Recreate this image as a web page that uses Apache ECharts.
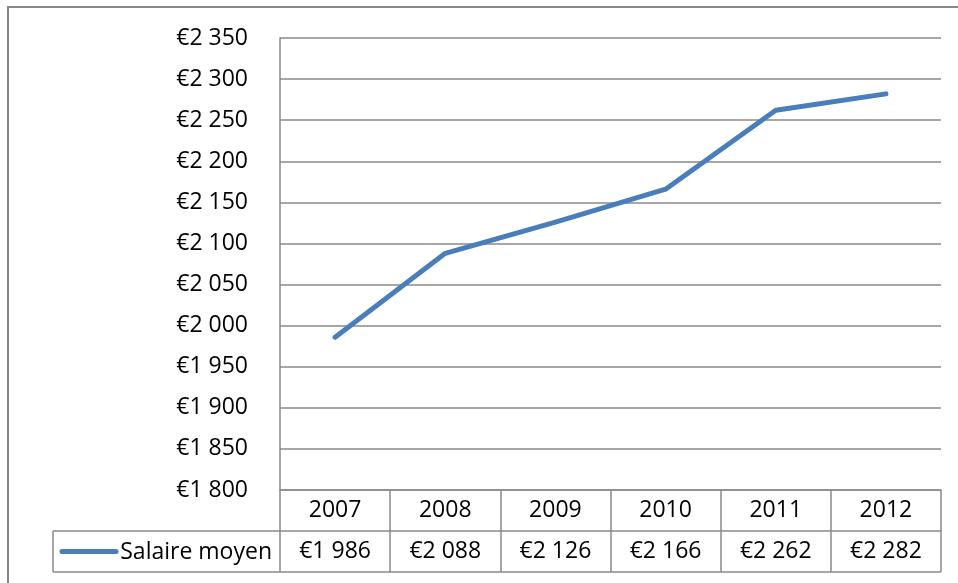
<!DOCTYPE html>
<html>
<head>
<meta charset="utf-8">
<script src="https://cdn.jsdelivr.net/npm/echarts@6/dist/echarts.min.js"></script>
<style>
  html, body { margin: 0; padding: 0; background: #fff; }
  #main { width: 958px; height: 583px; }
</style>
</head>
<body>
<div id="main"></div>
<script>
var years = ['2007', '2008', '2009', '2010', '2011', '2012'];
var salaries = [1986, 2088, 2126, 2166, 2262, 2282];
var seriesName = 'Salaire moyen';

function euro(v) {
    var s = String(v);
    return '€' + s.replace(/\B(?=(\d{3})+(?!\d))/g, ' ');
}

var gray = '#8a8a8a';
var font = '"Open Sans", "Noto Sans", sans-serif';
var fs = 23;
var G = { left: 280, right: 17, top: 38, bottom: 93 };
var rowH = 41;

var dom = document.getElementById('main');
var chart = echarts.init(dom);

var option = {
    animation: false,
    grid: { left: G.left, right: G.right, top: G.top, bottom: G.bottom },
    xAxis: [{
        type: 'category',
        data: years,
        boundaryGap: true,
        axisLine: { show: true, lineStyle: { color: gray, width: 1.5 } },
        axisTick: { show: true, length: rowH * 2, lineStyle: { color: gray, width: 1.5 } },
        axisLabel: { margin: 9, color: '#000', fontSize: fs, fontFamily: font }
    }, {
        type: 'category',
        position: 'bottom',
        offset: rowH,
        data: salaries.map(euro),
        boundaryGap: true,
        axisLine: { show: true, lineStyle: { color: gray, width: 1.5 } },
        axisTick: { show: false },
        axisLabel: { margin: 9, color: '#000', fontSize: fs, fontFamily: font }
    }],
    yAxis: {
        type: 'value',
        min: 1800,
        max: 2350,
        interval: 50,
        axisLine: { show: true, lineStyle: { color: gray, width: 1.5 } },
        axisTick: { show: false },
        splitLine: { lineStyle: { color: gray, width: 1.5 } },
        axisLabel: { margin: 32, color: '#000', fontSize: fs, fontFamily: font,
                     padding: [4, 0, 0, 0], formatter: euro }
    },
    series: [{
        name: seriesName,
        type: 'line',
        xAxisIndex: 0,
        data: salaries,
        symbol: 'none',
        lineStyle: { color: '#4a7ebb', width: 5, cap: 'round', join: 'round' }
    }]
};
chart.setOption(option);

// data table frame + legend key (left cell of the value row)
var bottomY = 583 - G.bottom;
var rowTop = bottomY + rowH;
var rowBot = bottomY + rowH * 2;
var right = 958 - G.right;
var cellLeft = 53;
var midY = (rowTop + rowBot) / 2;
chart.setOption({
    graphic: [
        { type: 'rect', shape: { x: 8, y: 7, width: 980, height: 600 },
          style: { fill: null, stroke: '#878787', lineWidth: 2 }, silent: true },
        { type: 'line', shape: { x1: cellLeft, y1: rowTop, x2: G.left, y2: rowTop },
          style: { stroke: gray, lineWidth: 1.5 } },
        { type: 'line', shape: { x1: cellLeft, y1: rowBot, x2: right, y2: rowBot },
          style: { stroke: gray, lineWidth: 1.5 } },
        { type: 'line', shape: { x1: cellLeft, y1: rowTop, x2: cellLeft, y2: rowBot },
          style: { stroke: gray, lineWidth: 1.5 } },
        { type: 'line', shape: { x1: 62, y1: midY, x2: 116, y2: midY },
          style: { stroke: '#4a7ebb', lineWidth: 5, lineCap: 'round' } },
        { type: 'text', x: G.left - 8, y: midY + 1,
          style: { text: seriesName, fill: '#000', fontSize: fs, fontFamily: font,
                   align: 'right', verticalAlign: 'middle' } }
    ]
});
</script>
</body>
</html>
